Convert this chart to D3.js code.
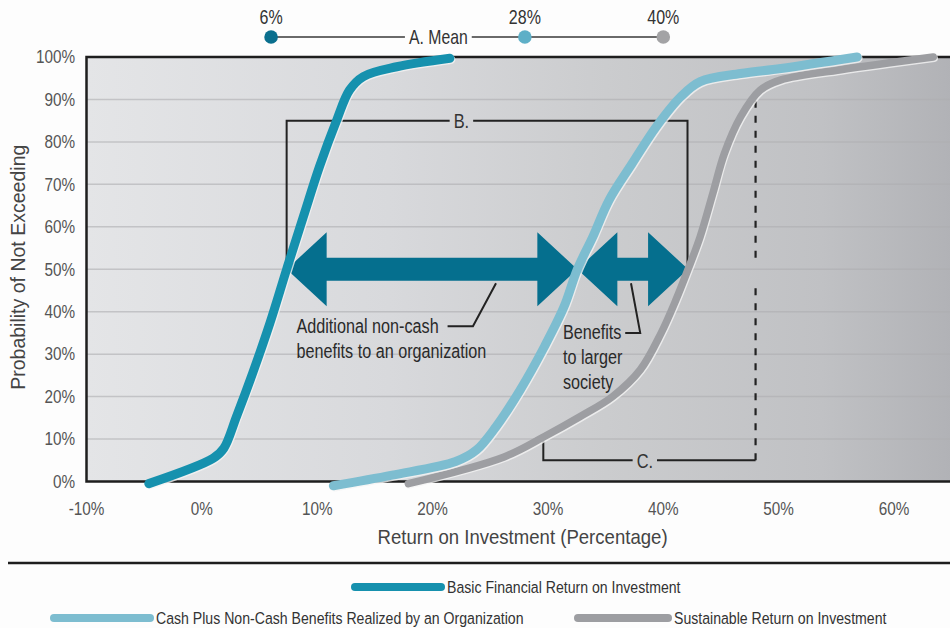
<!DOCTYPE html>
<html>
<head>
<meta charset="utf-8">
<script src="https://cdn.jsdelivr.net/npm/d3@7"></script>
<style>
  html, body { margin: 0; padding: 0; background: #fdfdfd; }
  svg { display: block; }
  text { font-family: "Liberation Sans", Arial, sans-serif; }
</style>
</head>
<body>
<svg id="chart" width="950" height="628"></svg>
<script>
// ---------- data ----------
const xTicks = [-10, 0, 10, 20, 30, 40, 50, 60];
const xTickLabels = ["-10%", "0%", "10%", "20%", "30%", "40%", "50%", "60%"];
const yTicks = [0, 10, 20, 30, 40, 50, 60, 70, 80, 90, 100];
const yTickLabels = ["0%", "10%", "20%", "30%", "40%", "50%", "60%", "70%", "80%", "90%", "100%"];

const seriesNames = ["Basic Financial Return on Investment",
                     "Cash Plus Non-Cash Benefits Realized by an Organization",
                     "Sustainable Return on Investment"];

// cumulative probability curves: return (%) vs probability of not exceeding (%)
const basicX = [-4.6, 1.0, 1.9, 3.0, 4.4, 5.9, 7.35, 8.8, 10.2, 11.7, 12.8, 14.0, 16.9, 21.5];
const basicP = [-0.5, 5.5, 7.8, 15.3, 25.5, 37.3, 50, 62.4, 74.2, 85.2, 92.2, 95.4, 97.7, 99.7];

const cashX = [11.4, 16.5, 22.0, 23.8, 25.5, 27.6, 29.7, 31.4, 32.55, 33.9, 35.3, 37.3, 39.4, 41.5, 43.2, 46.7, 50.2, 56.8];
const cashP = [-1, 1.5, 4.7, 7.4, 12.9, 21.6, 31.8, 41.2, 50, 57.7, 66.3, 74.9, 83.6, 90.6, 94.2, 96.1, 97.3, 100];

const sroiX = [17.9, 26.2, 29.7, 32.8, 35.6, 38.0, 39.8, 41.1, 42.15, 43.2, 44.3, 45.3, 46.7, 48.4, 50.2, 55.4, 63.4];
const sroiP = [-0.5, 5.8, 10.6, 15.3, 20.0, 26.3, 34.9, 42.8, 50, 57.7, 67.9, 77.3, 85.9, 92.2, 94.6, 97, 100];

// A. Mean
const means = [6, 28, 40];
const meanLabels = ["6%", "28%", "40%"];
const meanTitle = "A. Mean";
const meanTitleAt = 20.5;

// arrows at median (50%)
const medianP = 50;
const arrowSpans = [[7.35, 32.55], [32.55, 42.15]];

// B. bracket
const bracketB = { left: 7.35, right: 42.1, top: 85, bottom: 50, label: "B.", labelAt: 22.5 };
// C. bracket
const bracketC = { left: 29.6, right: 48, leftTop: 10, bottom: 5, dashTop: 90, gapTop: 52.7, gapBottom: 45.8, label: "C.", labelAt: 38.4 };

// annotations
const noteOrg = ["Additional non-cash", "benefits to an organization"];
const noteOrgAt = [8.2, 35.0];
const noteOrgLeader = [[21.3, 36.6], [23.5, 36.6], [25.5, 46.7]];
const noteSoc = ["Benefits", "to larger", "society"];
const noteSocAt = [31.3, 33.6];
const noteSocLeader = [[36.7, 35.0], [38.0, 35.0], [37.2, 46.7]];

const xTitle = "Return on Investment (Percentage)";
const yTitle = "Probability of Not Exceeding";

// ---------- styles ----------
const colBasic = "#1691ae", colCash = "#7dbdd0", colSroi = "#9d9ea2", colArrow = "#056f8e";

// ---------- helpers ----------
// condensed text: a regular face squeezed horizontally
function ctext(parent, px, py, str, o) {
  const s = o.sx || 0.82;
  const g = parent.append("g").attr("transform", `translate(${px},${py}) ${o.rot ? `rotate(${o.rot})` : ""} scale(${s},1)`);
  const t = g.append("text").attr("x", 0).attr("y", 0)
    .attr("dy", o.dy === undefined ? "0.35em" : o.dy)
    .attr("text-anchor", o.anchor || "start")
    .attr("font-size", o.size || 18).attr("fill", o.fill || "#333").text(str);
  return t.node().getComputedTextLength() * s;
}

// ---------- drawing ----------
const svg = d3.select("#chart");
const x = d3.scaleLinear().domain([-10, 60]).range([86.5, 894]);
const y = d3.scaleLinear().domain([0, 100]).range([481.5, 57]);
const plotRight = 952;

const defs = svg.append("defs");
const grad = defs.append("linearGradient").attr("id", "bg").attr("x1", "0").attr("x2", "1").attr("y1", "0").attr("y2", "0");
[[0, "#e4e5e7"], [0.35, "#d8d9dc"], [0.6, "#cbccce"], [0.85, "#c0c1c4"], [1, "#b1b2b6"]].forEach(s =>
  grad.append("stop").attr("offset", s[0]).attr("stop-color", s[1]));

svg.append("rect").attr("x", x(-10)).attr("y", y(100)).attr("width", plotRight - x(-10)).attr("height", y(0) - y(100))
  .attr("fill", "url(#bg)");

// gridlines
svg.append("g").selectAll("line").data(yTicks.filter(t => t > 0 && t < 100)).join("line")
  .attr("x1", x(-10)).attr("x2", plotRight).attr("y1", d => y(d)).attr("y2", d => y(d))
  .attr("stroke", "#adaeb1").attr("stroke-opacity", 0.6).attr("stroke-width", 1.5);

// frame
svg.append("path")
  .attr("d", `M${plotRight},${y(100)}H${x(-10)}V${y(0)}H${plotRight}`)
  .attr("fill", "none").attr("stroke", "#1e1e1e").attr("stroke-width", 2.5);

// tick labels
const axG = svg.append("g");
yTicks.forEach((t, i) => ctext(axG, 75, y(t), yTickLabels[i], { anchor: "end", size: 18, sx: 0.85, fill: "#555" }));
xTicks.forEach((t, i) => ctext(axG, x(t), 509, xTickLabels[i], { anchor: "middle", size: 18, sx: 0.85, fill: "#555" }));

// axis titles
ctext(axG, x(27.8), 537, xTitle, { anchor: "middle", size: 21, sx: 0.885, fill: "#444" });
ctext(axG, 18, y(50) - 2, yTitle, { anchor: "middle", size: 21, sx: 0.93, fill: "#444", rot: -90 });

// B bracket
const bG = svg.append("g");
const bw = ctext(bG, x(bracketB.labelAt), y(bracketB.top), bracketB.label, { anchor: "middle", size: 20, sx: 0.82, fill: "#333" });
bG.append("path").attr("d",
  `M${x(bracketB.labelAt) - bw / 2 - 4},${y(bracketB.top)}H${x(bracketB.left)}V${y(bracketB.bottom)}` +
  `M${x(bracketB.labelAt) + bw / 2 + 4},${y(bracketB.top)}H${x(bracketB.right)}V${y(bracketB.bottom)}`)
  .attr("fill", "none").attr("stroke", "#222").attr("stroke-width", 2);

// C bracket
const cG = svg.append("g");
const cw = ctext(cG, x(bracketC.labelAt), y(bracketC.bottom) + 1, bracketC.label, { anchor: "middle", size: 20, sx: 0.82, fill: "#333" });
cG.append("path").attr("d",
  `M${x(bracketC.left)},${y(bracketC.leftTop)}V${y(bracketC.bottom)}H${x(bracketC.labelAt) - cw / 2 - 4}` +
  `M${x(bracketC.labelAt) + cw / 2 + 4},${y(bracketC.bottom)}H${x(bracketC.right)}`)
  .attr("fill", "none").attr("stroke", "#222").attr("stroke-width", 2);
cG.append("path").attr("d",
  `M${x(bracketC.right)},${y(bracketC.bottom)}V${y(bracketC.gapBottom)}M${x(bracketC.right)},${y(bracketC.gapTop)}V${y(bracketC.dashTop)}`)
  .attr("fill", "none").attr("stroke", "#222").attr("stroke-width", 2.2).attr("stroke-dasharray", "7,8");

// arrows
const hl = 40, hh = 37, sh = 11.5;
svg.append("g").selectAll("path").data(arrowSpans).join("path")
  .attr("d", d => {
    const x1 = x(d[0]), x2 = x(d[1]), yc = y(medianP);
    return `M${x1},${yc}L${x1 + hl},${yc - hh}V${yc - sh}H${x2 - hl}V${yc - hh}L${x2},${yc}` +
      `L${x2 - hl},${yc + hh}V${yc + sh}H${x1 + hl}V${yc + hh}Z`;
  })
  .attr("fill", colArrow);

// curves
const line = d3.line().x(d => x(d[0])).y(d => y(d[1])).curve(d3.curveCatmullRom.alpha(0.5));
const zip = (a, b) => a.map((v, i) => [v, b[i]]);
const curves = [
  { pts: zip(sroiX, sroiP), color: colSroi, w: 7.5 },
  { pts: zip(cashX, cashP), color: colCash, w: 9 },
  { pts: zip(basicX, basicP), color: colBasic, w: 9 }
];
const cg = svg.append("g");
curves.forEach(c => {
  cg.append("path").attr("d", line(c.pts)).attr("fill", "none").attr("stroke", "#f4f4f4")
    .attr("stroke-width", c.w).attr("stroke-linecap", "round").attr("transform", "translate(1,1.2)").attr("opacity", 0.8);
  cg.append("path").attr("d", line(c.pts)).attr("fill", "none").attr("stroke", c.color)
    .attr("stroke-width", c.w).attr("stroke-linecap", "round").attr("stroke-linejoin", "round");
});

// annotations
const nG = svg.append("g");
noteOrg.forEach((t, i) => ctext(nG, x(noteOrgAt[0]), y(noteOrgAt[1]) + i * 25, t, { dy: 0, size: 20, sx: 0.81, fill: "#2a2a2a" }));
noteSoc.forEach((t, i) => ctext(nG, x(noteSocAt[0]), y(noteSocAt[1]) + i * 25, t, { dy: 0, size: 20, sx: 0.81, fill: "#2a2a2a" }));
const leader = d3.line().x(d => x(d[0])).y(d => y(d[1]));
[noteOrgLeader, noteSocLeader].forEach(l => nG.append("path").attr("d", leader(l))
  .attr("fill", "none").attr("stroke", "#222").attr("stroke-width", 2));

// A. Mean
const mG = svg.append("g");
const meanY = 37;
const mw = ctext(mG, x(meanTitleAt), meanY, meanTitle, { anchor: "middle", size: 20, sx: 0.79, fill: "#333" });
mG.append("path").attr("d",
  `M${x(means[0])},${meanY}H${x(meanTitleAt) - mw / 2 - 4}M${x(meanTitleAt) + mw / 2 + 4},${meanY}H${x(means[2])}`)
  .attr("stroke", "#3a3a3a").attr("stroke-width", 1.6);
const dotCols = ["#0a6f8e", "#5eafc7", "#a3a3a5"];
mG.selectAll("circle").data(means).join("circle")
  .attr("cx", d => x(d)).attr("cy", meanY).attr("r", 6.8).attr("fill", (d, i) => dotCols[i]);
means.forEach((m, i) => ctext(mG, x(m), 17, meanLabels[i], { anchor: "middle", size: 20, sx: 0.8, fill: "#333" }));

// separator
svg.append("line").attr("x1", 8).attr("x2", 950).attr("y1", 563).attr("y2", 563)
  .attr("stroke", "#1e1e1e").attr("stroke-width", 2.5);

// legend
const legendItems = [
  { name: seriesNames[0], color: colBasic, x1: 355, x2: 441, y: 587 },
  { name: seriesNames[1], color: colCash, x1: 54, x2: 150, y: 618 },
  { name: seriesNames[2], color: colSroi, x1: 578, x2: 668, y: 618 }
];
const lg = svg.append("g");
legendItems.forEach(it => {
  lg.append("line").attr("x1", it.x1).attr("x2", it.x2).attr("y1", it.y).attr("y2", it.y)
    .attr("stroke", it.color).attr("stroke-width", 8).attr("stroke-linecap", "round");
  ctext(lg, it.x2 + 6, it.y, it.name, { size: 17, sx: 0.83, fill: "#333" });
});
</script>
</body>
</html>
